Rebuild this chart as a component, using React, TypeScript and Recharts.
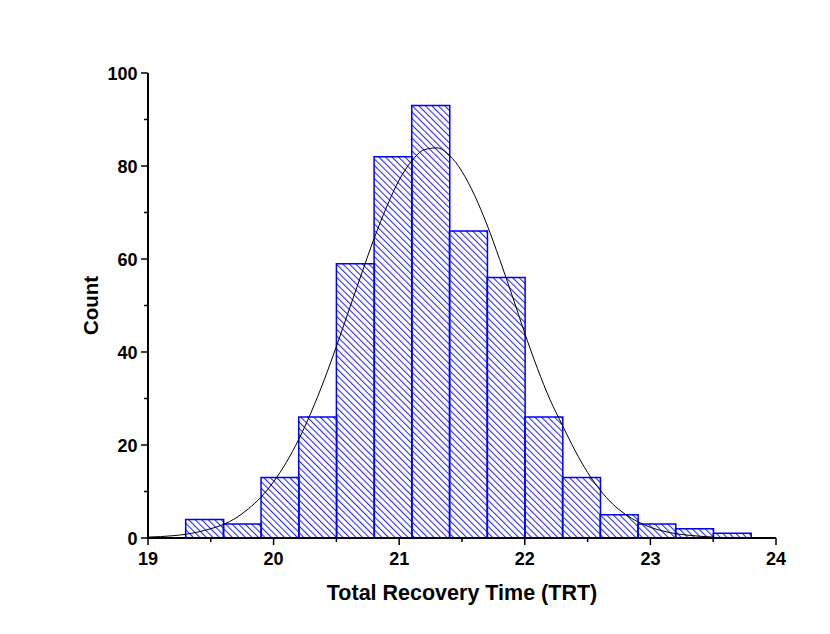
import React from "react";
import { ComposedChart, XAxis, YAxis, Bar, Line, Label } from "recharts";

// histogram bins (centre of each 0.3 wide bin) and their counts
const binCenters = [19.45, 19.75, 20.05, 20.35, 20.65, 20.95, 21.25, 21.55, 21.85, 22.15, 22.45, 22.75, 23.05, 23.35, 23.65];
const binCounts = [4, 3, 13, 26, 59, 82, 93, 66, 56, 26, 13, 5, 3, 2, 1];

// normal fit curve
const fitX = [
  19.0, 19.1, 19.2, 19.3, 19.4, 19.5, 19.6, 19.7, 19.8, 19.9,
  20.0, 20.1, 20.2, 20.3, 20.4, 20.5, 20.6, 20.7, 20.8, 20.9,
  21.0, 21.1, 21.2, 21.3, 21.4, 21.5, 21.6, 21.7, 21.8, 21.9,
  22.0, 22.1, 22.2, 22.3, 22.4, 22.5, 22.6, 22.7, 22.8, 22.9,
  23.0, 23.1, 23.2, 23.3, 23.4, 23.5,
];
const fitCounts = [
  0.2, 0.3, 0.5, 0.8, 1.3, 2.0, 2.9, 4.3, 6.3, 8.8,
  12.1, 16.2, 21.2, 27.1, 33.8, 41.2, 49.0, 56.8, 64.4, 71.2,
  77.0, 81.1, 83.5, 83.9, 82.3, 78.8, 73.7, 67.3, 59.9, 52.1,
  44.0, 36.5, 29.8, 24.2, 18.8, 14.1, 10.3, 7.3, 5.1, 3.5,
  2.3, 1.5, 0.95, 0.6, 0.36, 0.2,
];

const xTicks = [19, 19.5, 20, 20.5, 21, 21.5, 22, 22.5, 23, 23.5, 24];
const yTicks = [0, 10, 20, 30, 40, 50, 60, 70, 80, 90, 100];
const xMajor = [19, 20, 21, 22, 23, 24];
const yMajor = [0, 20, 40, 60, 80, 100];

const bins = binCenters.map((x, i) => ({ x, count: binCounts[i] }));
const fit = fitX.map((x, i) => ({ x, fit: fitCounts[i] }));

const W = 814;
const H = 610;
const margin = { top: 65, right: 46, left: 80, bottom: 18 };
const yAxisW = 60;
const xAxisH = 62;

const font = "'Liberation Sans', Arial, sans-serif";

const XTick = (props: any) => {
  const { x, y, payload } = props;
  const major = xMajor.includes(payload.value);
  return (
    <g>
      <line x1={x} x2={x} y1={y} y2={y + (major ? 7 : 4)} stroke="#000" strokeWidth={1.5} />
      {major && (
        <text x={x} y={y + 27} textAnchor="middle" fontFamily={font} fontWeight="bold" fontSize={18} fill="#000">
          {payload.value}
        </text>
      )}
    </g>
  );
};

const YTick = (props: any) => {
  const { x, y, payload } = props;
  const major = yMajor.includes(payload.value);
  return (
    <g>
      <line x1={x} x2={x - (major ? 7 : 4)} y1={y} y2={y} stroke="#000" strokeWidth={1.5} />
      {major && (
        <text x={x - 10.5} y={y + 6.5} textAnchor="end" fontFamily={font} fontWeight="bold" fontSize={18} fill="#000">
          {payload.value}
        </text>
      )}
    </g>
  );
};

export default function App() {
  return (
    <ComposedChart width={W} height={H} data={bins} margin={margin} barCategoryGap={0} barGap={0}>
      <defs>
        <pattern id="hatch" width={4.6} height={4.6} patternUnits="userSpaceOnUse" patternTransform="rotate(-45)">
          <line x1={0.5} y1={0} x2={0.5} y2={4.6} stroke="#2525ff" strokeWidth={1.1} />
        </pattern>
      </defs>
      <XAxis
        dataKey="x"
        type="number"
        domain={[19, 24]}
        ticks={xTicks}
        interval={0}
        allowDataOverflow
        height={xAxisH}
        tickSize={0}
        tickMargin={0}
        tickLine={false}
        tick={<XTick />}
        axisLine={{ stroke: "#000", strokeWidth: 2 }}
      >
        <Label
          content={(p: any) => {
            const vb = p.viewBox;
            return (
              <text x={vb.x + vb.width / 2} y={600 - 8} textAnchor="middle" fontFamily={font} fontWeight="bold" fontSize={21.5} fill="#000">
                Total Recovery Time (TRT)
              </text>
            );
          }}
        />
      </XAxis>
      <XAxis
        xAxisId="top"
        dataKey="x"
        orientation="top"
        type="number"
        domain={[19, 24]}
        allowDataOverflow
        height={0}
        tick={false}
        tickLine={false}
        axisLine={{ stroke: "#000", strokeWidth: 2 }}
      />
      <YAxis
        type="number"
        domain={[0, 100]}
        ticks={yTicks}
        interval={0}
        width={yAxisW}
        tickSize={0}
        tickMargin={0}
        tickLine={false}
        tick={<YTick />}
        axisLine={{ stroke: "#000", strokeWidth: 2 }}
      >
        <Label
          content={(p: any) => {
            const vb = p.viewBox;
            const cx = 89.5;
            const cy = vb.y + vb.height / 2;
            return (
              <text x={cx} y={cy} transform={`rotate(-90, ${cx}, ${cy})`} textAnchor="middle" fontFamily={font} fontWeight="bold" fontSize={20.5} fill="#000">
                Count
              </text>
            );
          }}
        />
      </YAxis>
      <YAxis
        yAxisId="right"
        orientation="right"
        type="number"
        domain={[0, 100]}
        width={0}
        tick={false}
        tickLine={false}
        axisLine={{ stroke: "#000", strokeWidth: 2 }}
      />
      <Bar
        dataKey="count"
        fill="url(#hatch)"
        stroke="#0000ff"
        strokeWidth={1.5}
        isAnimationActive={false}
      />
      <Line
        xAxisId="top"
        data={fit}
        dataKey="fit"
        type="monotone"
        stroke="#000"
        strokeWidth={1}
        dot={false}
        activeDot={false}
        isAnimationActive={false}
      />
    </ComposedChart>
  );
}
